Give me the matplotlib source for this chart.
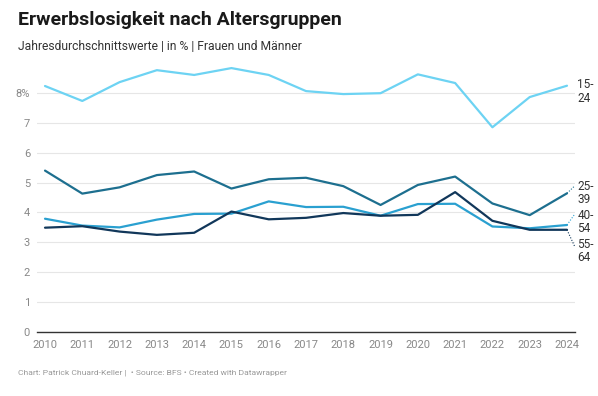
import numpy as np
import matplotlib.pyplot as plt

plt.rcParams['font.family'] = ['Roboto', 'DejaVu Sans']

years = list(range(2010, 2025))
age_15_24 = [8.23, 7.73, 8.36, 8.76, 8.60, 8.83, 8.60, 8.06, 7.96, 7.99, 8.62, 8.33, 6.85, 7.86, 8.24]
age_25_39 = [5.40, 4.63, 4.84, 5.25, 5.37, 4.80, 5.11, 5.16, 4.88, 4.25, 4.92, 5.20, 4.30, 3.91, 4.64]
age_40_54 = [3.79, 3.56, 3.50, 3.76, 3.95, 3.96, 4.37, 4.18, 4.19, 3.89, 4.28, 4.29, 3.53, 3.47, 3.58]
age_55_64 = [3.49, 3.54, 3.36, 3.25, 3.32, 4.03, 3.77, 3.82, 3.98, 3.89, 3.92, 4.68, 3.72, 3.42, 3.42]

series = [
    ('15-\n24', age_15_24, '#6dd3f3'),
    ('25-\n39', age_25_39, '#1d6f8f'),
    ('40-\n54', age_40_54, '#2aa0d0'),
    ('55-\n64', age_55_64, '#11375a'),
]
# label y position (data units) at the right edge, and where the dotted connector ends
label_y = [8.05, 4.65, 3.68, 2.71]
conn_y = [None, 4.88, 3.93, 2.88]

fig = plt.figure(figsize=(5.98, 3.96), dpi=100)
ax = fig.add_axes([37/598, 1 - 332/396, (575 - 37)/598, (332 - 63)/396])

for (name, vals, col), ly, cy in zip(series, label_y, conn_y):
    ax.plot(years, vals, color=col, lw=1.6, solid_capstyle='round', zorder=3)
    if cy is not None:
        ax.plot([2024, 2024.2], [vals[-1], cy],
                color=col, lw=0.8, ls=(0, (1, 1.5)), clip_on=False)
    ax.text(2024.28, ly, name, fontsize=8.5, color='#333333', va='center', ha='left',
            linespacing=1.05)

ax.set_xlim(2009.785, 2024.215)
ax.set_ylim(0, 9)
ax.set_yticks(range(0, 9))
ax.set_yticklabels(['0', '1', '2', '3', '4', '5', '6', '7', '8%'])
ax.set_xticks(years)
ax.set_xticklabels([str(y) for y in years])
ax.grid(axis='y', color='#e6e6e6', lw=0.8)
ax.set_axisbelow(True)
for s in ['top', 'right', 'left']:
    ax.spines[s].set_visible(False)
ax.spines['bottom'].set_color('#333333')
ax.spines['bottom'].set_linewidth(1.0)
ax.tick_params(axis='both', length=0, labelsize=8, colors='#888888')
ax.tick_params(axis='x', pad=6)
ax.tick_params(axis='y', pad=5)

fig.text(18/598, 1 - 20/396, 'Erwerbslosigkeit nach Altersgruppen', fontsize=14,
         fontweight='bold', color='#1a1a1a', va='center')
fig.text(18/598, 1 - 47/396, 'Jahresdurchschnittswerte | in % | Frauen und Männer',
         fontsize=8.7, color='#333333', va='center')
fig.text(18/598, 1 - 373/396, 'Chart: Patrick Chuard-Keller |  • Source: BFS • Created with Datawrapper',
         fontsize=6.1, color='#999999', va='center')

fig.savefig('out.png', dpi=100)
